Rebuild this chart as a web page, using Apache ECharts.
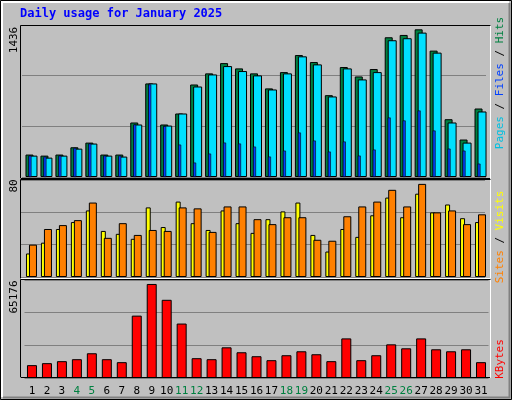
<!DOCTYPE html><html><head><meta charset="utf-8">
<script src="https://cdn.jsdelivr.net/npm/echarts@6/dist/echarts.min.js"></script>
<style>html,body{margin:0;padding:0;background:#C0C0C0}#c{width:512px;height:400px}</style></head><body><div id="c"></div>
<script>
const days=['1','2','3','4','5','6','7','8','9','10','11','12','13','14','15','16','17','18','19','20','21','22','23','24','25','26','27','28','29','30','31'];
const weekend=['4','5','11','12','18','19','25','26'];
const hits=[212,202,212,281,325,212,212,515,884,496,600,874,979,1076,1026,979,837,991,1152,1086,773,1039,950,1020,1320,1342,1395,1194,546,354,647];
const files=[202,183,202,268,316,202,193,496,884,486,600,855,969,1048,1001,960,827,979,1140,1064,761,1026,922,991,1292,1311,1364,1175,515,325,619];
const pages=[202,193,202,275,316,202,202,496,874,480,306,136,221,325,316,287,193,249,420,344,240,335,202,259,562,534,628,439,268,249,126];
const sites=[19.4,28.3,39.6,45.3,54.9,38,35.6,31.5,57.4,41.2,62.2,44.4,38.8,54.9,44.4,36.4,47.7,54.1,61.4,34.7,21,39.6,33.1,50.9,65.5,49.3,68.7,53.3,59.8,48.5,45.3];
const visits=[26.7,39.6,42.8,46.9,61.4,32.3,44.4,34.7,38.8,38,57.4,56.6,37.2,58.2,58.2,47.7,43.6,49.3,49.3,30.7,29.9,50.1,58.2,62.2,71.9,58.2,76.8,53.3,54.9,43.6,51.7];
const kbytes=[8558,9875,11192,12509,16458,12509,10533,41475,62542,52008,36208,13167,12509,20409,17117,14483,11850,15142,17775,15800,11192,26334,11850,15142,22384,19750,26334,19092,17775,19092,10533];
const maxTop=1436, maxMid=80, maxBot=65176;
const mono='DejaVu Sans Mono';
const panels=[{top:25,h:152},{top:180,h:97},{top:280,h:98}];
const defs=[
 [hits,0,-4,8,'#008040',maxTop,2],
 [files,0,-0.5,9,'#00E0FF',maxTop,3],
 [pages,0,-3.5,3,'#0040FF',maxTop,4],
 [sites,1,-5,5,'#FFFF00',maxMid,2],
 [visits,1,-0.5,8,'#FF8000',maxMid,3],
 [kbytes,2,-1.5,10,'#FF0000',maxBot,2]
];
const grid=[],xAxis=[],yAxis=[],series=[];
defs.forEach((d,i)=>{
 const p=panels[d[1]];
 grid.push({left:26+d[2],width:464,top:p.top,height:p.h});
 const first=(i===0||i===3||i===5);
 xAxis.push({type:'category',data:days,gridIndex:i,axisLine:{show:false},axisTick:{show:false},
  axisLabel:{show:i===5,interval:0,margin:8,fontFamily:mono,fontSize:11,color:(v)=>weekend.includes(v)?'#008040':'#000'}});
 yAxis.push({type:'value',gridIndex:i,min:0,max:d[5],interval:d[5]/3,axisLabel:{show:false},axisLine:{show:false},axisTick:{show:false},
  splitLine:{show:first,lineStyle:{color:'#808080',width:1}}});
 series.push({type:'bar',xAxisIndex:i,yAxisIndex:i,data:d[0],barWidth:d[3],z:d[6],silent:true,
  itemStyle:{color:d[4],borderColor:'#000',borderWidth:i===2?0.6:1}});
});
const g=[];
g.push({type:'rect',shape:{x:0.5,y:0.5,width:511,height:399},style:{fill:null,stroke:'#000',lineWidth:1}});
g.push({type:'polyline',shape:{points:[[2,397],[2,2],[509,2]]},style:{stroke:'#fff',lineWidth:2,fill:null}});
g.push({type:'polyline',shape:{points:[[3,397.5],[509.5,397.5],[509.5,3]]},style:{stroke:'#808080',lineWidth:2,fill:null}});
[[25,154],[179,100],[279,99]].forEach(r=>{
 g.push({type:'polyline',shape:{points:[[20.5,r[0]+r[1]],[20.5,r[0]+0.5],[491,r[0]+0.5]]},style:{stroke:'#000',fill:null,lineWidth:1},z:10});
 g.push({type:'polyline',shape:{points:[[20.5,r[0]+r[1]-0.5],[490.5,r[0]+r[1]-0.5],[490.5,r[0]+0.5]]},style:{stroke:'#fff',fill:null,lineWidth:1},z:10});
});
g.push({type:'polyline',shape:{points:[[21,178.5],[490,178.5]]},style:{stroke:'#000',lineWidth:1},z:10});
g.push({type:'polyline',shape:{points:[[21,377.5],[490,377.5]]},style:{stroke:'#000',lineWidth:1},z:10});
g.push({type:'text',left:20,top:8,style:{text:'Daily usage for January 2025',fill:'#0000FF',font:'bold 12px '+mono}});
function vtext(txt,x,y,rich){g.push({type:'text',x:x,y:y,rotation:Math.PI/2,style:{text:txt,rich:rich,align:'center',verticalAlign:'middle',font:'11px '+mono,fill:'#000'},z:20});}
vtext(String(maxTop),14,40);
vtext(String(maxMid),14,186);
vtext(String(maxBot),14,297);
vtext('{p|Pages} / {f|Files} / {h|Hits}',500,83,{p:{fill:'#00C0E0',font:'11px '+mono},f:{fill:'#0040FF',font:'11px '+mono},h:{fill:'#008040',font:'11px '+mono}});
vtext('{s|Sites} / {v|Visits}',500,237,{s:{fill:'#FF8000',font:'11px '+mono},v:{fill:'#FFFF00',font:'11px '+mono}});
vtext('{k|KBytes}',500,359,{k:{fill:'#FF0000',font:'11px '+mono}});
const chart=echarts.init(document.getElementById('c'));
chart.setOption({animation:false,backgroundColor:'#C0C0C0',grid,xAxis,yAxis,series,graphic:g});
</script></body></html>
